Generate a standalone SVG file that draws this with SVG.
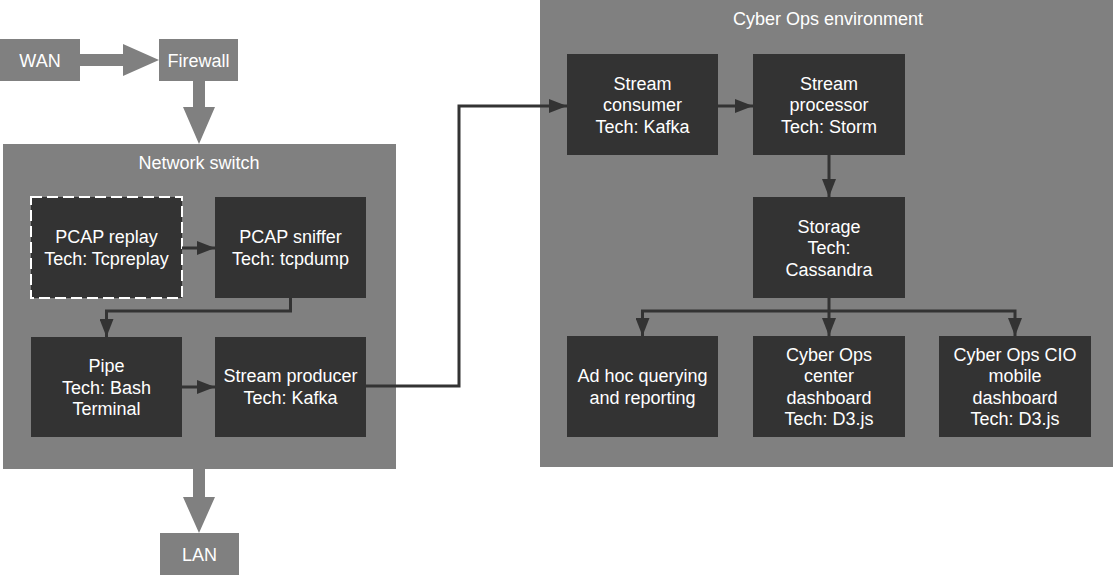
<svg xmlns="http://www.w3.org/2000/svg" width="1116" height="576" viewBox="0 0 1116 576">
<style>
text{font-family:"Liberation Sans",Arial,sans-serif;font-size:18px;fill:#fff;text-anchor:middle}
.box{fill:#808080}
.node{fill:#333333}
.dash{stroke:#fff;stroke-width:2;stroke-dasharray:11 5}
.big{fill:#808080}
.conn{fill:none;stroke:#333333;stroke-width:3}
</style>
<defs>
<marker id="ah" viewBox="0 0 18 14" refX="18" refY="7" markerWidth="18" markerHeight="14" markerUnits="userSpaceOnUse" orient="auto">
<path d="M0,0 L18,7 L0,14 Z" fill="#333333"/>
</marker>
</defs>
<rect width="1116" height="576" fill="#fff"/>

<g id="network-switch">
<rect class="box" x="3" y="144" width="393" height="325"/>
<text x="199" y="168.5">Network switch</text>
</g>
<g id="cyber-ops-environment">
<rect class="box" x="540" y="0" width="573" height="467"/>
<text x="828" y="24.5">Cyber Ops environment</text>
</g>

<g id="wan">
<rect class="box" x="0" y="39" width="80" height="42"/>
<text x="40" y="66.5">WAN</text>
</g>
<g id="firewall">
<rect class="box" x="159" y="39" width="79" height="42"/>
<text x="198.5" y="66.5">Firewall</text>
</g>
<g id="lan">
<rect class="box" x="160" y="533" width="79" height="42"/>
<text x="199.5" y="560.5">LAN</text>
</g>

<g id="pcap-replay">
<rect class="node dash" x="31" y="197" width="151" height="101"/>
<text x="106.5" y="243">PCAP replay</text>
<text x="106.5" y="264.5">Tech: Tcpreplay</text>
</g>
<g id="pcap-sniffer">
<rect class="node" x="215" y="197" width="151" height="101"/>
<text x="290.5" y="243">PCAP sniffer</text>
<text x="290.5" y="264.5">Tech: tcpdump</text>
</g>
<g id="pipe">
<rect class="node" x="31" y="337" width="151" height="100"/>
<text x="106.5" y="372">Pipe</text>
<text x="106.5" y="393.5">Tech: Bash</text>
<text x="106.5" y="415">Terminal</text>
</g>
<g id="stream-producer">
<rect class="node" x="215" y="337" width="151" height="100"/>
<text x="290.5" y="382">Stream producer</text>
<text x="290.5" y="403.5">Tech: Kafka</text>
</g>

<g id="stream-consumer">
<rect class="node" x="567" y="54" width="151" height="101"/>
<text x="642.5" y="89.5">Stream</text>
<text x="642.5" y="111">consumer</text>
<text x="642.5" y="132.5">Tech: Kafka</text>
</g>
<g id="stream-processor">
<rect class="node" x="753" y="54" width="152" height="101"/>
<text x="829" y="89.5">Stream</text>
<text x="829" y="111">processor</text>
<text x="829" y="132.5">Tech: Storm</text>
</g>
<g id="storage">
<rect class="node" x="753" y="197" width="152" height="101"/>
<text x="829" y="232.5">Storage</text>
<text x="829" y="254">Tech:</text>
<text x="829" y="275.5">Cassandra</text>
</g>
<g id="ad-hoc">
<rect class="node" x="567" y="336" width="151" height="101"/>
<text x="642.5" y="382">Ad hoc querying</text>
<text x="642.5" y="403.5">and reporting</text>
</g>
<g id="ops-center-dashboard">
<rect class="node" x="753" y="336" width="152" height="101"/>
<text x="829" y="360.5">Cyber Ops</text>
<text x="829" y="382">center</text>
<text x="829" y="403.5">dashboard</text>
<text x="829" y="425">Tech: D3.js</text>
</g>
<g id="cio-dashboard">
<rect class="node" x="939" y="336" width="152" height="101"/>
<text x="1015" y="360.5">Cyber Ops CIO</text>
<text x="1015" y="382">mobile</text>
<text x="1015" y="403.5">dashboard</text>
<text x="1015" y="425">Tech: D3.js</text>
</g>

<g id="connectors">
<polygon class="big" points="80,54 123,54 123,44 159,60 123,76 123,66 80,66"/>
<polygon class="big" points="193,81 205,81 205,107 215,107 199,144 183,107 193,107"/>
<polygon class="big" points="193,469 205,469 205,497 215,497 199,533 183,497 193,497"/>
<path class="conn" d="M182,248 L215,248" marker-end="url(#ah)"/>
<path class="conn" d="M290.5,298 L290.5,311 L106.5,311 L106.5,337" marker-end="url(#ah)"/>
<path class="conn" d="M182,387 L215,387" marker-end="url(#ah)"/>
<path class="conn" d="M366,386 L459,386 L459,106 L567,106" marker-end="url(#ah)"/>
<path class="conn" d="M718,106 L753,106" marker-end="url(#ah)"/>
<path class="conn" d="M829,155 L829,197" marker-end="url(#ah)"/>
<path class="conn" d="M829,298 L829,336" marker-end="url(#ah)"/>
<path class="conn" d="M829,311 L642.5,311 L642.5,336" marker-end="url(#ah)"/>
<path class="conn" d="M829,311 L1015,311 L1015,336" marker-end="url(#ah)"/>
</g>
</svg>
